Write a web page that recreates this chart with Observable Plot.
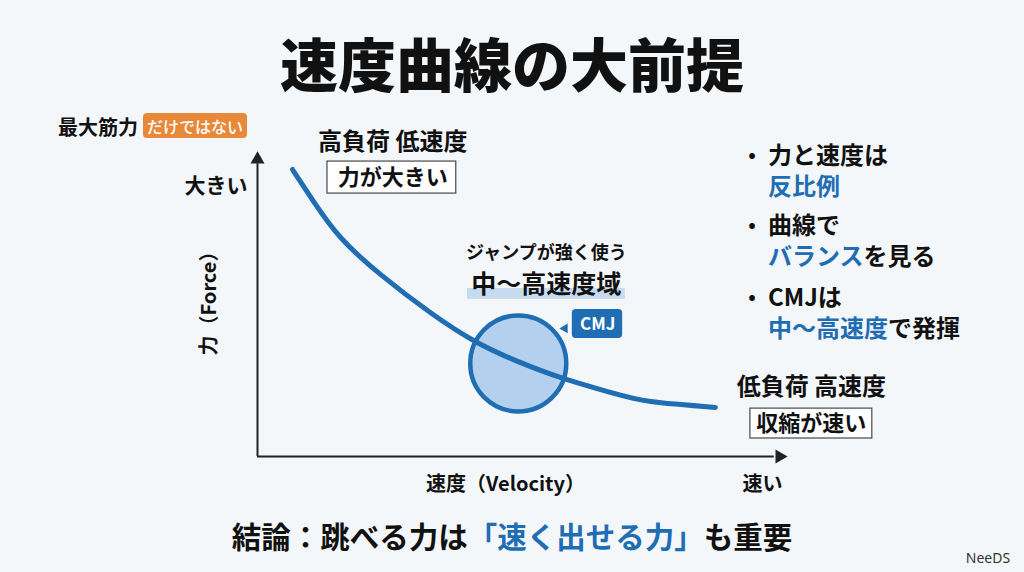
<!DOCTYPE html>
<html><head><meta charset="utf-8">
<script src="https://cdn.jsdelivr.net/npm/d3@7"></script>
<script src="https://cdn.jsdelivr.net/npm/@observablehq/plot@0.6"></script>
<style>
html,body{margin:0;padding:0;background:#f4f7fa;overflow:hidden;}
#chart svg{display:block;}
</style></head><body><div id="chart"></div>
<script>
// Force–velocity curve (relative units)
const velocity = [0.66,1.06,1.57,2.32,3.26,4.11,4.92,5.77,6.66,7.42,8.64];
const force    = [9.41,8.36,7.18,5.97,4.72,3.77,3.11,2.56,2.10,1.80,1.61];
const curve = velocity.map((v, i) => ({v, f: force[i]}));

// CMJ zone
const cmjZone = [{v: 4.92, f: 3.05}];

// Axis extents
const axisV = [0, 9.75];
const axisF = [0, 9.6];

// Annotation labels (centered)
const labels = [
  {v: 2.55, f: 10.30, text: "高負荷 低速度", size: 24},
  {v: 2.55, f: 9.13, text: "力が大きい", size: 22},
  {v: 10.45, f: 2.26, text: "低負荷 高速度", size: 24},
  {v: 10.45, f: 1.08, text: "収縮が速い", size: 22},
  {v: 5.45, f: 6.66, text: "ジャンプが強く使う", size: 18},
  {v: 5.45, f: 5.61, text: "中〜高速度域", size: 25},
  {v: 4.68, f: -0.92, text: "速度（Velocity）", size: 20},
  {v: 9.53, f: -0.92, text: "速い", size: 20}
];
const yEndLabel = [{v: -0.19, f: 8.85, text: "大きい"}];
const yAxisLabel = [{v: -0.91, f: 5.18, text: "力（Force）"}];
const boxes = [
  {v1: 1.32, v2: 3.75, f1: 8.62, f2: 9.67},
  {v1: 9.30, v2: 11.60, f1: 0.59, f2: 1.57}
];
const band = [{v1: 3.96, v2: 6.94, f1: 5.15, f2: 5.51}];
const badge = [{v1: 5.94, v2: 6.89, f1: 3.87, f2: 4.82, tv: 6.42, tf: 4.33, pv: 5.80, pf: 4.2, text: "CMJ"}];

// Text blocks
const titleText = "速度曲線の大前提";
const noteLabel = "最大筋力";
const noteBadge = "だけではない";
const bullets = [
  {line1: [["力と速度は", "#111"]], line2: [["反比例", "#1f6db2"]]},
  {line1: [["曲線で", "#111"]], line2: [["バランス", "#1f6db2"], ["を見る", "#111"]]},
  {line1: [["CMJは", "#111"]], line2: [["中〜高速度", "#1f6db2"], ["で発揮", "#111"]]}
];
const conclusion = [["結論：跳べる力は", "#111"], ["「速く出せる力」", "#1f6db2"], ["も重要", "#111"]];
const credit = "NeeDS";

const FONT = "'Noto Sans CJK JP', 'Noto Sans', sans-serif";
const BLUE = "#1f6db2";

const plot = Plot.plot({
  width: 1024, height: 572,
  margin: 0,
  style: {background: "#f4f7fa", fontFamily: FONT},
  x: {domain: [0, 10], range: [257, 787], axis: null},
  y: {domain: [0, 10], range: [456, 151], axis: null},
  marks: [
    // axes
    Plot.ruleX([0], {y1: axisF[0], y2: axisF[1], stroke: "#222", strokeWidth: 2}),
    Plot.ruleY([0], {x1: axisV[0], x2: axisV[1], stroke: "#222", strokeWidth: 2}),
    Plot.dot([{v: 0, f: 9.74}], {x: "v", y: "f", symbol: "triangle", r: 5.2, fill: "#222", stroke: "none"}),
    Plot.dot([{v: 9.85, f: 0}], {x: "v", y: "f", symbol: "triangle", r: 5.2, fill: "#222", stroke: "none", rotate: 90}),
    // CMJ circle
    Plot.dot(cmjZone, {x: "v", y: "f", r: 48, fill: "#b3d1ee", stroke: BLUE, strokeWidth: 4.5}),
    // curve
    Plot.line(curve, {x: "v", y: "f", curve: "natural", stroke: BLUE, strokeWidth: 5, strokeLinecap: "round"}),
    // highlight band
    Plot.rect(band, {x1: "v1", x2: "v2", y1: "f1", y2: "f2", fill: "#c6dbef"}),
    // boxes
    Plot.rect(boxes, {x1: "v1", x2: "v2", y1: "f1", y2: "f2", fill: "#fff", stroke: "#555", strokeWidth: 1.3}),
    // CMJ badge
    Plot.rect(badge, {x1: "v1", x2: "v2", y1: "f1", y2: "f2", fill: BLUE, rx: 4}),
    Plot.dot(badge, {x: "pv", y: "pf", symbol: "triangle", r: 3.6, fill: BLUE, stroke: "none", rotate: -90}),
    Plot.text(badge, {x: "tv", y: "tf", text: "text", fill: "#fff", fontSize: 17, fontWeight: 700, fontFamily: FONT}),
    // labels
    Plot.text(labels, {x: "v", y: "f", text: "text", fontSize: "size", fontWeight: 700, fill: "#111", fontFamily: FONT}),
    Plot.text(yEndLabel, {x: "v", y: "f", text: "text", textAnchor: "end", fontSize: 21, fontWeight: 700, fill: "#111", fontFamily: FONT}),
    Plot.text(yAxisLabel, {x: "v", y: "f", text: "text", rotate: -90, fontSize: 20, fontWeight: 700, fill: "#111", fontFamily: FONT})
  ]
});

const svg = d3.select(plot);
const addText = (x, y, anchor, size, weight, fill, s, family = FONT) =>
  svg.append("text").attr("x", x).attr("y", y).attr("text-anchor", anchor).attr("dominant-baseline", "central")
    .attr("font-family", family).attr("font-size", size).attr("font-weight", weight).attr("fill", fill).text(s);

// title
addText(512, 62, "middle", 58, 900, "#111", titleText);
// note + badge
addText(58, 126, "start", 20, 700, "#111", noteLabel);
svg.append("rect").attr("x", 143).attr("y", 113).attr("width", 104).attr("height", 25).attr("rx", 4).attr("fill", "#e8893a");
addText(195, 126, "middle", 16, 500, "#fff", noteBadge);
// bullets
const bulletY = [[153, 184], [223, 254], [295, 326]];
bullets.forEach((b, i) => {
  addText(752, bulletY[i][0], "middle", 20, 700, "#111", "•");
  [b.line1, b.line2].forEach((line, j) => {
    const t = addText(768, bulletY[i][j], "start", 24, 700, "#111", null);
    line.forEach(([s, c]) => t.append("tspan").attr("fill", c).text(s));
  });
});
// conclusion
const ct = addText(512, 535, "middle", 29.5, 700, "#111", null);
conclusion.forEach(([s, c]) => ct.append("tspan").attr("fill", c).text(s));
// credit
addText(988, 557, "middle", 14, 400, "#333", credit, "'Noto Sans', sans-serif");

document.getElementById("chart").appendChild(plot);
</script></body></html>
